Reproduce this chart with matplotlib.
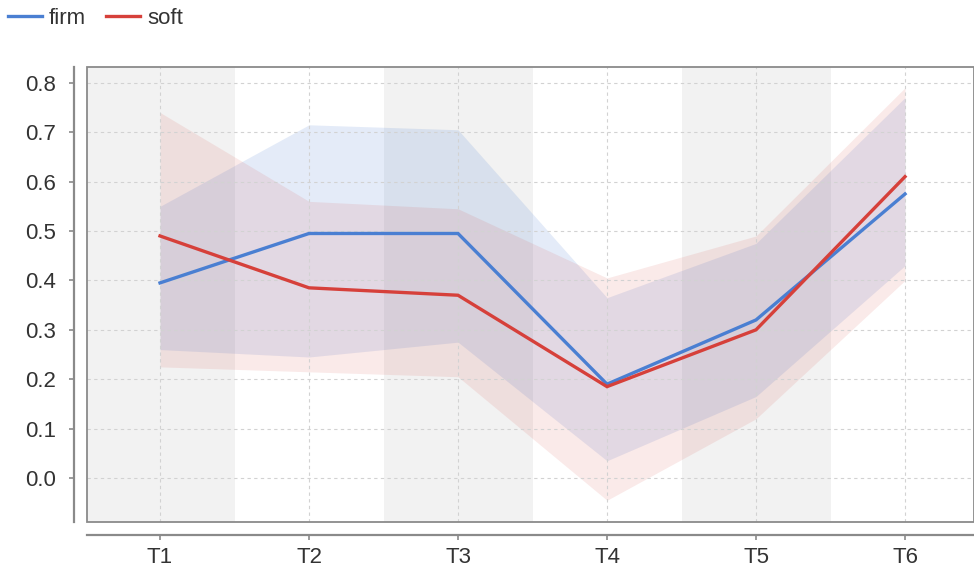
import matplotlib
matplotlib.use("Agg")
import matplotlib.pyplot as plt
from matplotlib.patches import Rectangle
from matplotlib.lines import Line2D
import numpy as np

plt.rcParams['font.family'] = ['Liberation Sans', 'DejaVu Sans']

# Time points
categories = ['T1', 'T2', 'T3', 'T4', 'T5', 'T6']

# "firm" series: mean with lower/upper envelope
firm_mean = [0.395, 0.495, 0.495, 0.19, 0.32, 0.575]
firm_lo = [0.26, 0.245, 0.275, 0.035, 0.165, 0.43]
firm_hi = [0.55, 0.715, 0.705, 0.365, 0.475, 0.77]

# "soft" series: mean with lower/upper envelope
soft_mean = [0.49, 0.385, 0.37, 0.185, 0.30, 0.61]
soft_lo = [0.225, 0.215, 0.205, -0.045, 0.12, 0.40]
soft_hi = [0.74, 0.56, 0.545, 0.405, 0.49, 0.79]

y_ticks = [0.0, 0.1, 0.2, 0.3, 0.4, 0.5, 0.6, 0.7, 0.8]

BLUE = '#4a7fd2'
RED = '#d6403a'
GRAY = '#8a8a8a'
TEXT = '#333333'

fig = plt.figure(figsize=(9.74, 5.77), dpi=100)
ax = fig.add_axes([87 / 974, 1 - 522 / 577, 1 - 87 / 974, (522 - 67) / 577])

x = np.arange(len(categories))

# alternating shaded columns
for i in range(0, len(categories), 2):
    ax.axvspan(i - 0.5, i + 0.5, color='#f2f2f2', zorder=0, lw=0)

ax.grid(True, color='#d2d2d2', linestyle=(0, (3, 3)), linewidth=0.8, zorder=0.5)

ax.fill_between(x, firm_lo, firm_hi, color=BLUE, alpha=0.15, lw=0, zorder=1)
ax.fill_between(x, soft_lo, soft_hi, color=RED, alpha=0.11, lw=0, zorder=1.1)
ax.plot(x, firm_mean, color=BLUE, lw=2.4, zorder=3, solid_joinstyle='miter')
ax.plot(x, soft_mean, color=RED, lw=2.4, zorder=3.1, solid_joinstyle='miter')

ax.set_xlim(-0.49, 5.463)
ax.set_ylim(-0.089, 0.832)
ax.set_xticks(x)
ax.set_xticklabels(categories)
ax.set_yticks(y_ticks)
ax.set_yticklabels([f'{v:.1f}' for v in y_ticks])

# detached axis lines, with the plotting box framed separately
for side in ('top', 'right'):
    ax.spines[side].set_visible(False)
for side in ('left', 'bottom'):
    ax.spines[side].set_position(('outward', 9.5))
    ax.spines[side].set_color(GRAY)
    ax.spines[side].set_linewidth(1.6)
ax.add_patch(Rectangle((0, 0), 1, 1, transform=ax.transAxes, fill=False,
                       edgecolor=GRAY, linewidth=1.3, zorder=5, clip_on=False))

ax.tick_params(axis='y', direction='out', length=3.6, width=1.2, color=GRAY,
               pad=9, labelsize=16, labelcolor=TEXT)
ax.tick_params(axis='x', direction='out', length=3.6, width=1.2, color=GRAY,
               pad=5, labelsize=16, labelcolor=TEXT)

handles = [Line2D([], [], color=BLUE, lw=2.4), Line2D([], [], color=RED, lw=2.4)]
fig.legend(handles, ['firm', 'soft'], loc='upper left', bbox_to_anchor=(0.0, 1.0),
           ncol=2, frameon=False, fontsize=16, handlelength=1.55,
           handletextpad=0.3, columnspacing=0.9, borderaxespad=0.0,
           borderpad=0.35, labelcolor=TEXT)

fig.savefig('out.png', dpi=100)
